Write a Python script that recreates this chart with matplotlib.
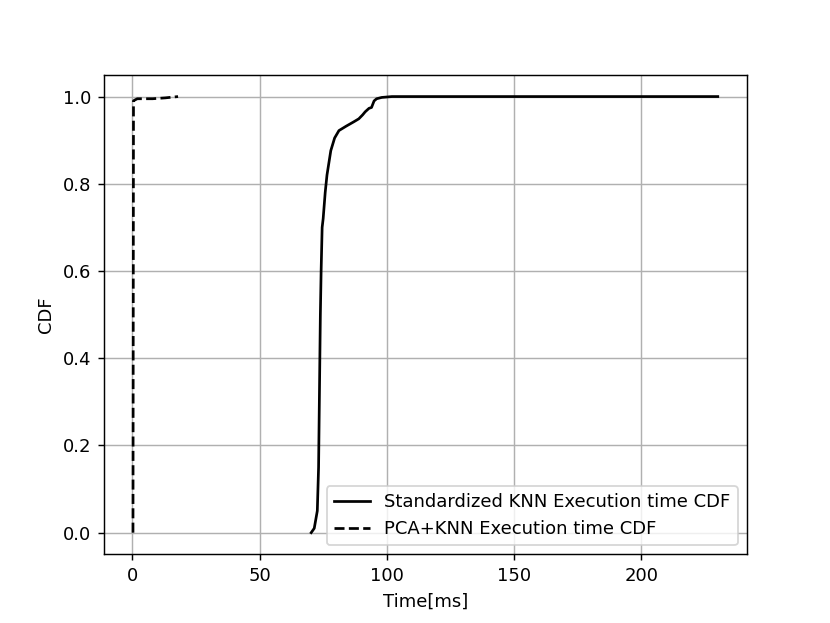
import matplotlib
matplotlib.use("Agg")
import matplotlib.pyplot as plt

# Standardized KNN execution time CDF (ms, cumulative fraction)
KNN_TIME = [70.3, 71.5, 72.7, 73.2, 73.6, 73.9, 74.2, 74.6, 75.0, 75.8, 76.5, 78.0, 79.5,
            81.2, 84.0, 87.0, 89.0, 90.5, 91.5, 93.0, 94.0, 95.0, 96.0, 98.0, 102.0, 230.0]
KNN_CDF = [0.0, 0.01, 0.05, 0.15, 0.35, 0.50, 0.60, 0.70, 0.72, 0.78, 0.82, 0.876, 0.905,
           0.922, 0.932, 0.942, 0.949, 0.958, 0.965, 0.973, 0.975, 0.99, 0.995, 0.998, 1.0, 1.0]

# PCA+KNN execution time CDF
PCA_TIME = [0.3, 0.5, 1.0, 2.0, 8.0, 13.0, 18.0]
PCA_CDF = [0.0, 0.99, 0.992, 0.995, 0.995, 0.997, 1.0]

fig, ax = plt.subplots(figsize=(830/130, 623/130), dpi=130)
ax.plot(KNN_TIME, KNN_CDF, "k-", lw=1.5, label="Standardized KNN Execution time CDF")
ax.plot(PCA_TIME, PCA_CDF, "k--", lw=1.5, label="PCA+KNN Execution time CDF")
ax.set_xlabel("Time[ms]")
ax.set_ylabel("CDF")
ax.grid(True)
ax.legend(loc="lower right")
fig.savefig("out.png", dpi=130)
